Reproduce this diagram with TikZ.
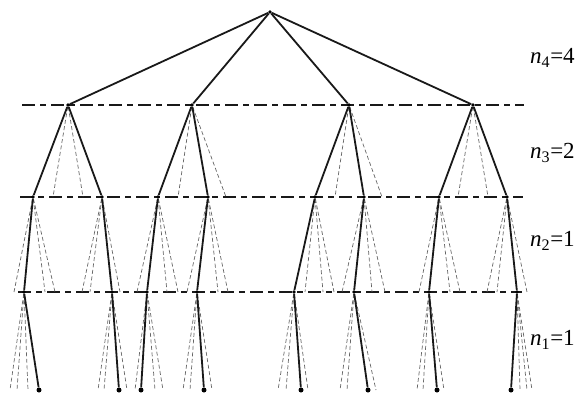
\documentclass[tikz,border=0pt]{standalone}
\usepackage{fontspec}
\setmainfont{Liberation Serif}
\begin{document}
\begin{tikzpicture}[x=1pt,y=-1pt,
  dotnode/.style={circle,fill=black,inner sep=0pt,minimum size=3.6pt},
  leafnode/.style={circle,fill=black,inner sep=0pt,minimum size=5pt},
  edge/.style={line width=1.8pt,black!90},
  ghost/.style={line width=0.7pt,black!60,dash pattern=on 4pt off 2.5pt},
  levelline/.style={line width=1.5pt,black!90,dash pattern=on 13pt off 5pt on 6pt off 5pt},
  lab/.style={anchor=west,inner sep=0pt,font=\fontsize{23}{26}\selectfont}]
\useasboundingbox (0,0) rectangle (577,397);
% level lines
\coordinate (h1l) at (22,105); \coordinate (h1r) at (524,105);
\coordinate (h2l) at (20,197); \coordinate (h2r) at (523,197);
\coordinate (h3l) at (18,292); \coordinate (h3r) at (522,292);
\draw[levelline] (h1l) -- (h1r);
\draw[levelline] (h2l) -- (h2r);
\draw[levelline] (h3l) -- (h3r);
% nodes
\node[dotnode] (R) at (270,12) {};
\foreach \n/\x in {A1/68,A2/192,A3/349,A4/473} \node[dotnode] (\n) at (\x,105) {};
\foreach \n/\x in {B1/33,B2/102,B3/158,B4/208,B5/315,B6/364,B7/439,B8/507} \node[dotnode] (\n) at (\x,197) {};
\foreach \n/\x in {C1/24,C2/112,C3/147,C4/197,C5/294,C6/354,C7/429,C8/517} \node[dotnode] (\n) at (\x,292) {};
\foreach \n/\x in {D1/39,D2/119,D3/141,D4/204,D5/301,D6/368,D7/437,D8/511} \node[leafnode] (\n) at (\x,390) {};
% dashed alternatives
\foreach \p/\xs in {A1/{53,83},A2/{178,226},A3/{335,382},A4/{458,488}}
  \foreach \x in \xs {\coordinate (g-\p-\x) at (\x,197); \draw[ghost] (\p) -- (g-\p-\x);}
\foreach \p/\xs in {B1/{14,45,55},B2/{82,90,120},B3/{137,167,178},B4/{187,218,228},B5/{305,323,334},B6/{342,372,385},B7/{419,450,460},B8/{487,497,527}}
  \foreach \x in \xs {\coordinate (g-\p-\x) at (\x,292); \draw[ghost] (\p) -- (g-\p-\x);}
\foreach \p/\xs in {C1/{10,17,28},C2/{98,104,127},C3/{135,155,163},C4/{183,190,212},C5/{278,286,308},C6/{340,347,376},C7/{417,423,444},C8/{520,527,532}}
  \foreach \x in \xs {\coordinate (g-\p-\x) at (\x,390); \draw[ghost] (\p) -- (g-\p-\x);}
% solid tree
\foreach \c in {A1,A2,A3,A4} \draw[edge] (R) -- (\c);
\draw[edge] (A1) -- (B1); \draw[edge] (A1) -- (B2);
\draw[edge] (A2) -- (B3); \draw[edge] (A2) -- (B4);
\draw[edge] (A3) -- (B5); \draw[edge] (A3) -- (B6);
\draw[edge] (A4) -- (B7); \draw[edge] (A4) -- (B8);
\foreach \i in {1,...,8} {\draw[edge] (B\i) -- (C\i); \draw[edge] (C\i) -- (D\i);}
% labels
\node[lab] (l4) at (530,58) {\textit{n}\textsubscript{4}=4};
\node[lab] (l3) at (530,153) {\textit{n}\textsubscript{3}=2};
\node[lab] (l2) at (530,241) {\textit{n}\textsubscript{2}=1};
\node[lab] (l1) at (530,340) {\textit{n}\textsubscript{1}=1};
\end{tikzpicture}
\end{document}
